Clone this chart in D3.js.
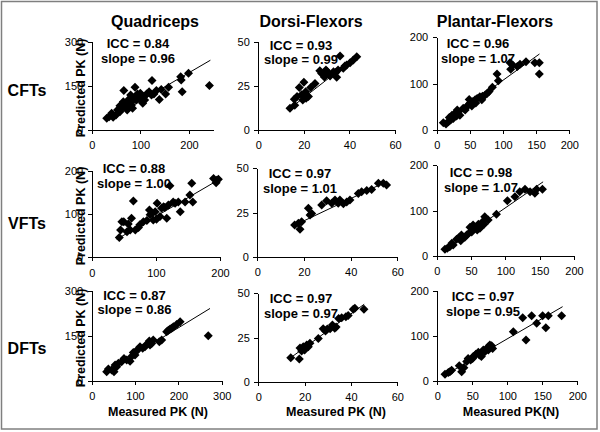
<!DOCTYPE html>
<html>
<head>
<meta charset="utf-8">
<script src="https://cdnjs.cloudflare.com/ajax/libs/d3/7.8.5/d3.min.js"></script>
<style>
body { margin: 0; background: #fff; }
svg text { font-family: Arial, "Liberation Sans", sans-serif; fill: #000; }
.axis path, .axis line { stroke: #000; stroke-width: 1; shape-rendering: crispEdges; }
.axis text { font-size: 11px; }
</style>
</head>
<body>
<svg id="chart" width="600" height="432"></svg>
<script>
var muscles = ['Quadriceps', 'Dorsi-Flexors', 'Plantar-Flexors'];
var tests = ['CFTs', 'VFTs', 'DFTs'];
var xTitles = ['Measured PK (N)', 'Measured PK (N)', 'Measured PK(N)'];
var yTitle = 'Predicted PK (N)';

// [row][col]
var iccs = [['0.84', '0.93', '0.96'], ['0.88', '0.97', '0.98'], ['0.87', '0.97', '0.97']];
var slopes = [['0.96', '0.99', '1.07'], ['1.00', '1.01', '1.07'], ['0.86', '0.97', '0.95']];

var xMax = [[250, 60, 200], [200, 60, 200], [300, 60, 200]];
var yMax = [[300, 50, 200], [200, 50, 200], [300, 50, 200]];
var xTicks = [
   [[0, 100, 200], [0, 20, 40, 60], [0, 50, 100, 150, 200]],
   [[0, 100, 200], [0, 20, 40, 60], [0, 50, 100, 150, 200]],
   [[0, 100, 200, 300], [0, 20, 40, 60], [0, 50, 100, 150, 200]]
];
var yTicks = [
   [[0, 150, 300], [0, 25, 50], [0, 100, 200]],
   [[0, 100, 200], [0, 25, 50], [0, 100, 200]],
   [[0, 150, 300], [0, 25, 50], [0, 100, 200]]
];

// measured, predicted
var quadCFT = [[31,40],[36,45],[44,43],[50,51],[53,68],[58,62],[61,74],[66,134],[68,82],[73,68],[77,79],[80,93],[84,74],[85,102],[89,145],[91,113],[94,122],[98,106],[100,125],[105,91],[107,113],[113,122],[118,130],[124,168],[128,122],[133,134],[139,104],[143,138],[152,122],[158,145],[183,181],[184,170],[186,130],[199,193],[242,151],[41,57],[65,96],[75,102],[82,85],[92,102],[109,102],[123,119],[80,119],[72,88],[58,82]];
var dorsiCFT = [[13.9,12.3],[16,14],[17,19],[18,24],[19,20],[19.5,17],[20,27],[20.8,21.7],[21,18],[22,19],[23,24],[24.9,26.4],[27.8,32],[29,30],[30.3,33],[31.5,30.6],[33,33],[34.4,29.8],[35,34],[35.9,41.9],[37.3,34.9],[38.8,36.8],[40.3,38.1],[41.7,39.6],[43.2,41.5],[27,33.6],[29.7,34],[34,32.5],[38,36.2],[15.8,17.4]];
var plantarCFT = [[10,15.8],[14,13],[17.6,18],[21,21.6],[23,32],[25,25],[27.6,36],[30,30],[32.7,39.6],[35,32],[40,47],[45,50],[49,66],[50,57.6],[54,61],[58,65],[61,68],[65,72],[69,73],[73,75.5],[76,79],[79,83],[84,92],[91,121],[93,106],[110.6,145],[111.6,131],[114.6,140],[121.6,137],[125.6,142],[134.7,147.5],[148,145],[154.8,145],[154.8,121],[19,27],[31,43],[43,43],[53,52],[59,58],[68,65],[48,54]];
var quadVFT = [[43,46],[45,63],[47,82],[50,82],[55,59],[60,63],[62,90],[65,130],[68,63],[73,69],[75,75],[86,85],[90,109],[94,102],[96,86],[101,88],[102,125],[106.5,94],[109,113],[114,115],[119.5,121],[122,165],[127,128],[135,128],[138,105],[145.5,128],[153,144],[156,171],[157.5,128],[190,182],[194,172],[195,178],[197.5,180],[57,77],[80.6,82],[91,98],[99,105],[112,117],[130,125],[117,90]];
var dorsiVFT = [[16,18],[17.6,18.9],[18.3,15.5],[19,19.8],[21.9,27.4],[22.6,23.6],[23.3,24.5],[27.6,29.2],[29.7,31.7],[31.9,30.2],[33.3,32],[34.7,30.2],[35.4,32],[36.9,30],[38.3,31],[39.7,32],[43.3,35.8],[44.7,36.8],[46.9,37.4],[49,38],[51.9,41.5],[54,41.5],[55.4,40.6]];
var plantarVFT = [[12,14.7],[15.5,17],[19,20.5],[24,24],[29,36.6],[33,41],[35,33.7],[39,41],[43.7,46],[47.6,51],[48.5,63],[52,58.6],[56,63],[59,57],[60.7,70],[64,66],[67,75.5],[70,86],[75,79],[87,92],[103,121.6],[114,130],[121,141],[128.6,146.5],[136,141],[143,137.7],[145.6,146.5],[154,146.5],[22,28],[36,46],[41,41],[51,53],[58,64],[63,61],[69,70],[53,68]];
var quadDFT = [[38.5,40],[46,36.5],[51.5,31],[54,53],[61.5,58.7],[69,64],[74.6,75],[80.8,70],[88.5,66],[96,95],[100,86],[105,103],[111.5,114],[117.7,108.5],[127,122],[133,133],[138.5,125],[142,136],[156,130.6],[161.5,136],[173,164],[181,172.7],[188.5,180],[196,188],[204,197],[269,150.6],[34.6,31],[57.7,47.6],[92,81],[102,97],[123,114],[134.6,119.6],[177,169],[184.6,175]];
var dorsiDFT = [[14,13.6],[17.7,12.8],[18,19],[19.4,19.8],[20,18],[20.9,20.8],[22.3,21.7],[25.9,24.5],[28,30],[29,28.7],[31,30],[32,32],[33.6,31],[34.7,35.8],[37.8,36.8],[38.8,37.4],[41.7,41.5],[45.6,41],[18.7,17.4],[21.6,19.8],[29.8,29.8],[33,30.2],[36,36.2],[41,41]];
var plantarDFT = [[11,14.8],[15.7,19],[20.5,24],[31.4,34],[34.8,20.7],[38,29.5],[44,50],[47.6,46.5],[51.4,54],[55,59],[60,57.6],[63,54],[65.7,68.6],[70.5,71],[72.9,76],[75,80],[79,72],[108.6,109],[122,140],[126.7,91],[134.8,144.6],[142,127.7],[150.5,144.6],[155,118],[158.6,144.6],[177.6,144.6],[18,20.7],[42,43],[50.5,50],[58.6,63.5],[68,65],[73,68.6],[77.6,78]];

var points = [[quadCFT, dorsiCFT, plantarCFT], [quadVFT, dorsiVFT, plantarVFT], [quadDFT, dorsiDFT, plantarDFT]];

// trend lines: x1, y1, x2, y2
var fits = [
   [[30, 31, 244, 237], [13, 11.3, 44, 42.5], [10, 14.5, 155, 164]],
   [[39, 41.5, 199, 180], [15.4, 17.4, 55.4, 42.5], [10.7, 13, 155, 163]],
   [[34.6, 31, 273, 241], [13.6, 13.2, 45.7, 43.8], [9.5, 11.8, 179, 164.6]]
];

/** LAYOUT (pixels) **/
// plot boxes: left, right, bottom, top
var boxes = [
   [[91.7, 213.3, 130, 41.7], [258.3, 395, 130, 41.7], [436.7, 569.3, 130, 37.3]],
   [[91.7, 220, 257.3, 170.7], [257.3, 397.3, 256.7, 168.3], [436.7, 574, 256, 165]],
   [[91.7, 221.7, 381, 290.7], [258.3, 397.3, 381.7, 293.3], [437.3, 577.3, 381, 290.7]]
];
// stat labels: center x, first line y
var statPos = [
   [[138, 43.5], [301, 45], [478, 43.5]],
   [[134, 168.5], [300, 173.5], [481, 172.5]],
   [[134.5, 295], [301, 298.5], [483, 296.5]]
];
var colCenters = [155, 311, 495];
var rowCenters = [90, 223, 348];
var xTitleCenters = [158, 336, 511];

var svg = d3.select('#chart');

svg.append('rect')
   .attr('x', 1.5).attr('y', 1.5)
   .attr('width', 595.5).attr('height', 427.5)
   .attr('fill', 'none')
   .attr('stroke', '#7f7f7f')
   .attr('stroke-width', 1.5);

svg.selectAll('.col-title')
   .data(muscles)
   .enter()
   .append('text')
   .attr('class', 'col-title')
   .attr('x', function(d, i){ return colCenters[i]; })
   .attr('y', 21.5)
   .attr('dy', '0.35em')
   .attr('text-anchor', 'middle')
   .style('font-size', '16px')
   .style('font-weight', 'bold')
   .text(function(d){ return d; });

svg.selectAll('.row-title')
   .data(tests)
   .enter()
   .append('text')
   .attr('class', 'row-title')
   .attr('x', 27)
   .attr('y', function(d, i){ return rowCenters[i]; })
   .attr('dy', '0.35em')
   .attr('text-anchor', 'middle')
   .style('font-size', '16px')
   .style('font-weight', 'bold')
   .text(function(d){ return d; });

var diamond = 'M0,-4.5L4.5,0L0,4.5L-4.5,0Z';

tests.forEach(function(test, r){
   muscles.forEach(function(muscle, c){
      var box = boxes[r][c];
      var x = d3.scaleLinear().domain([0, xMax[r][c]]).range([box[0], box[1]]);
      var y = d3.scaleLinear().domain([0, yMax[r][c]]).range([box[2], box[3]]);
      var g = svg.append('g');

      g.append('g')
         .attr('class', 'axis')
         .attr('transform', 'translate(0,' + box[2] + ')')
         .call(d3.axisBottom(x).tickValues(xTicks[r][c]).tickSize(4).tickSizeOuter(0).tickPadding(7.5));

      g.append('g')
         .attr('class', 'axis')
         .attr('transform', 'translate(' + box[0] + ',0)')
         .call(d3.axisLeft(y).tickValues(yTicks[r][c]).tickSize(4).tickSizeOuter(0).tickPadding(4.5));

      var f = fits[r][c];
      g.append('line')
         .attr('x1', x(f[0])).attr('y1', y(f[1]))
         .attr('x2', x(f[2])).attr('y2', y(f[3]))
         .attr('stroke', '#000')
         .attr('stroke-width', 1);

      g.selectAll('.pt')
         .data(points[r][c])
         .enter()
         .append('path')
         .attr('class', 'pt')
         .attr('d', diamond)
         .attr('transform', function(d){ return 'translate(' + x(d[0]) + ',' + y(d[1]) + ')'; })
         .attr('fill', '#000');

      var sp = statPos[r][c];
      var stat = g.append('text')
         .attr('text-anchor', 'middle')
         .style('font-size', '13px')
         .style('font-weight', 'bold');
      stat.append('tspan')
         .attr('x', sp[0]).attr('y', sp[1]).attr('dy', '0.35em')
         .text('ICC = ' + iccs[r][c]);
      stat.append('tspan')
         .attr('x', sp[0]).attr('y', sp[1] + 14.5).attr('dy', '0.35em')
         .text('slope = ' + slopes[r][c]);

      if (c === 0) {
         g.append('text')
            .attr('transform', 'translate(80.5,' + ((box[2] + box[3]) / 2 + 2) + ') rotate(-90)')
            .attr('text-anchor', 'middle')
            .attr('dy', '0.35em')
            .style('font-size', '12.5px')
            .style('font-weight', 'bold')
            .text(yTitle);
      }
      if (r === 2) {
         g.append('text')
            .attr('x', xTitleCenters[c])
            .attr('y', 411.5)
            .attr('dy', '0.35em')
            .attr('text-anchor', 'middle')
            .style('font-size', '12.5px')
            .style('font-weight', 'bold')
            .text(xTitles[c]);
      }
   });
});
</script>
</body>
</html>
